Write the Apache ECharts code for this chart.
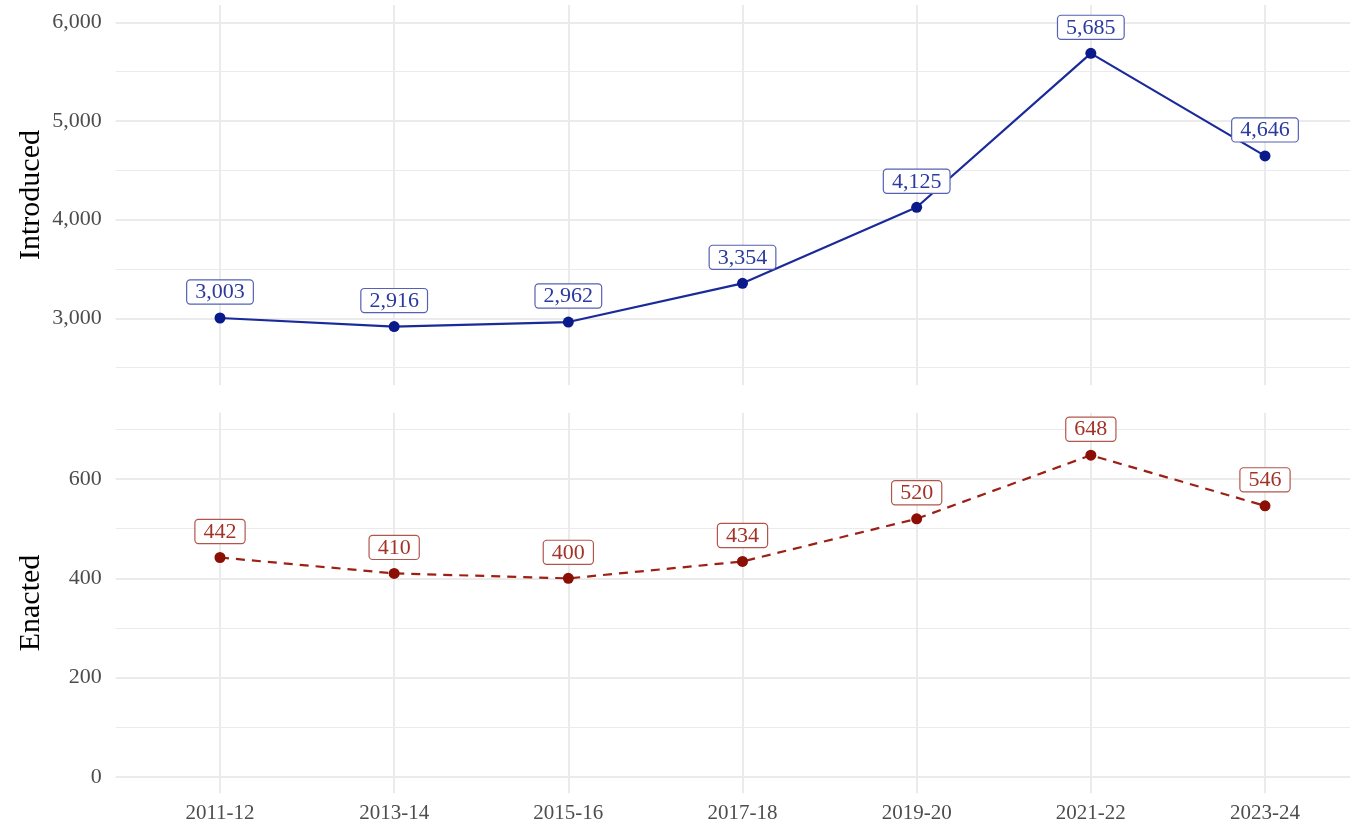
<!DOCTYPE html>
<html>
<head>
<meta charset="utf-8">
<script src="https://cdn.jsdelivr.net/npm/echarts@6/dist/echarts.min.js"></script>
<style>
  html, body { margin: 0; padding: 0; background: #ffffff; }
  #chart { width: 1350px; height: 827px; }
</style>
</head>
<body>
<div id="chart"></div>
<script>
// ---- data ----
const categories = ['2011-12', '2013-14', '2015-16', '2017-18', '2019-20', '2021-22', '2023-24'];
const introduced = [3003, 2916, 2962, 3354, 4125, 5685, 4646];
const enacted = [442, 410, 400, 434, 520, 648, 546];
const introMajorTicks = [3000, 4000, 5000, 6000];
const introMinorTicks = [2500, 3500, 4500, 5500];
const enactedMajorTicks = [0, 200, 400, 600];
const enactedMinorTicks = [100, 300, 500, 700];
const introDomain = [2324, 6175];
const enactedDomain = [-32.8, 733.6];

// ---- layout / style ----
const FONT = '"Liberation Serif", "Times New Roman", serif';
const GRID_COLOR = '#EBEBEB';
const TICK_COLOR = '#4D4D4D';
const backLeft = 115.7, backWidth = 1254;
const frontLeft = 220, frontWidth = 1045;
const panels = [
  { top: 5, bottom: 385, domain: introDomain, major: introMajorTicks, minor: introMinorTicks,
    name: 'Introduced', data: introduced,
    line: '#1A2A9A', point: '#0A1A8A', text: '#2B3A9E', border: '#5561B5', dashed: false },
  { top: 412.7, bottom: 793.3, domain: enactedDomain, major: enactedMajorTicks, minor: enactedMinorTicks,
    name: 'Enacted', data: enacted,
    line: '#9C2014', point: '#8B0F05', text: '#A33328', border: '#B0564C', dashed: true }
];

const fmt = v => Math.round(v).toLocaleString('en-US');

const grid = [], xAxis = [], yAxis = [], series = [];

panels.forEach((p, pi) => {
  const k = (p.bottom - p.top) / (p.domain[1] - p.domain[0]);
  const showX = pi === panels.length - 1;
  // back grids: major and minor horizontal lines spanning the whole panel width
  [
    { ticks: p.major, width: 2, labels: true },
    { ticks: p.minor, width: 1.1, labels: false }
  ].forEach(g => {
    const gi = grid.length;
    const lo = g.ticks[0];
    grid.push({ left: backLeft, width: backWidth, top: p.top, height: (p.domain[1] - lo) * k });
    xAxis.push({ gridIndex: gi, type: 'value', show: false, min: 0, max: 1 });
    yAxis.push({
      gridIndex: gi, type: 'value', min: lo, max: p.domain[1], interval: g.ticks[1] - g.ticks[0],
      axisLine: { show: false }, axisTick: { show: false },
      axisLabel: {
        show: g.labels, showMaxLabel: false, margin: 14,
        color: TICK_COLOR, fontFamily: FONT, fontSize: 22, formatter: fmt
      },
      splitLine: { show: true, showMaxLine: false, lineStyle: { color: GRID_COLOR, width: g.width } }
    });
    series.push({ type: 'line', xAxisIndex: gi, yAxisIndex: gi, data: [], silent: true });
  });
  // front grid with categories and the data
  const fi = grid.length;
  grid.push({ left: frontLeft, width: frontWidth, top: p.top, height: p.bottom - p.top });
  xAxis.push({
    gridIndex: fi, type: 'category', data: categories, boundaryGap: false,
    axisLine: { show: false }, axisTick: { show: false },
    axisLabel: { show: showX, margin: 10, color: TICK_COLOR, fontFamily: FONT, fontSize: 21 },
    splitLine: { show: true, lineStyle: { color: GRID_COLOR, width: 2 } }
  });
  yAxis.push({
    gridIndex: fi, type: 'value', min: p.domain[0], max: p.domain[1],
    name: p.name, nameLocation: 'middle', nameRotate: 90, nameGap: 174,
    nameTextStyle: { color: '#000000', fontFamily: FONT, fontSize: 30 },
    axisLine: { show: false }, axisTick: { show: false }, axisLabel: { show: false },
    splitLine: { show: false }
  });
  series.push({
    type: 'line', xAxisIndex: fi, yAxisIndex: fi, data: p.data,
    symbol: 'circle', symbolSize: 11, showAllSymbol: true,
    lineStyle: { color: p.line, width: 2.2, type: p.dashed ? [9, 7] : 'solid' },
    itemStyle: { color: p.point },
    label: {
      show: true, position: 'top', distance: 9,
      formatter: d => fmt(d.value),
      color: p.text, fontFamily: FONT, fontSize: 22, lineHeight: 18,
      backgroundColor: '#ffffff', borderColor: p.border, borderWidth: 1.2, borderRadius: 3,
      padding: [3, 8, 2, 8]
    },
    emphasis: { disabled: true },
    z: 5
  });
});

const chart = echarts.init(document.getElementById('chart'), null, { renderer: 'canvas' });
chart.setOption({
  animation: false,
  backgroundColor: '#ffffff',
  grid, xAxis, yAxis, series
});
</script>
</body>
</html>
